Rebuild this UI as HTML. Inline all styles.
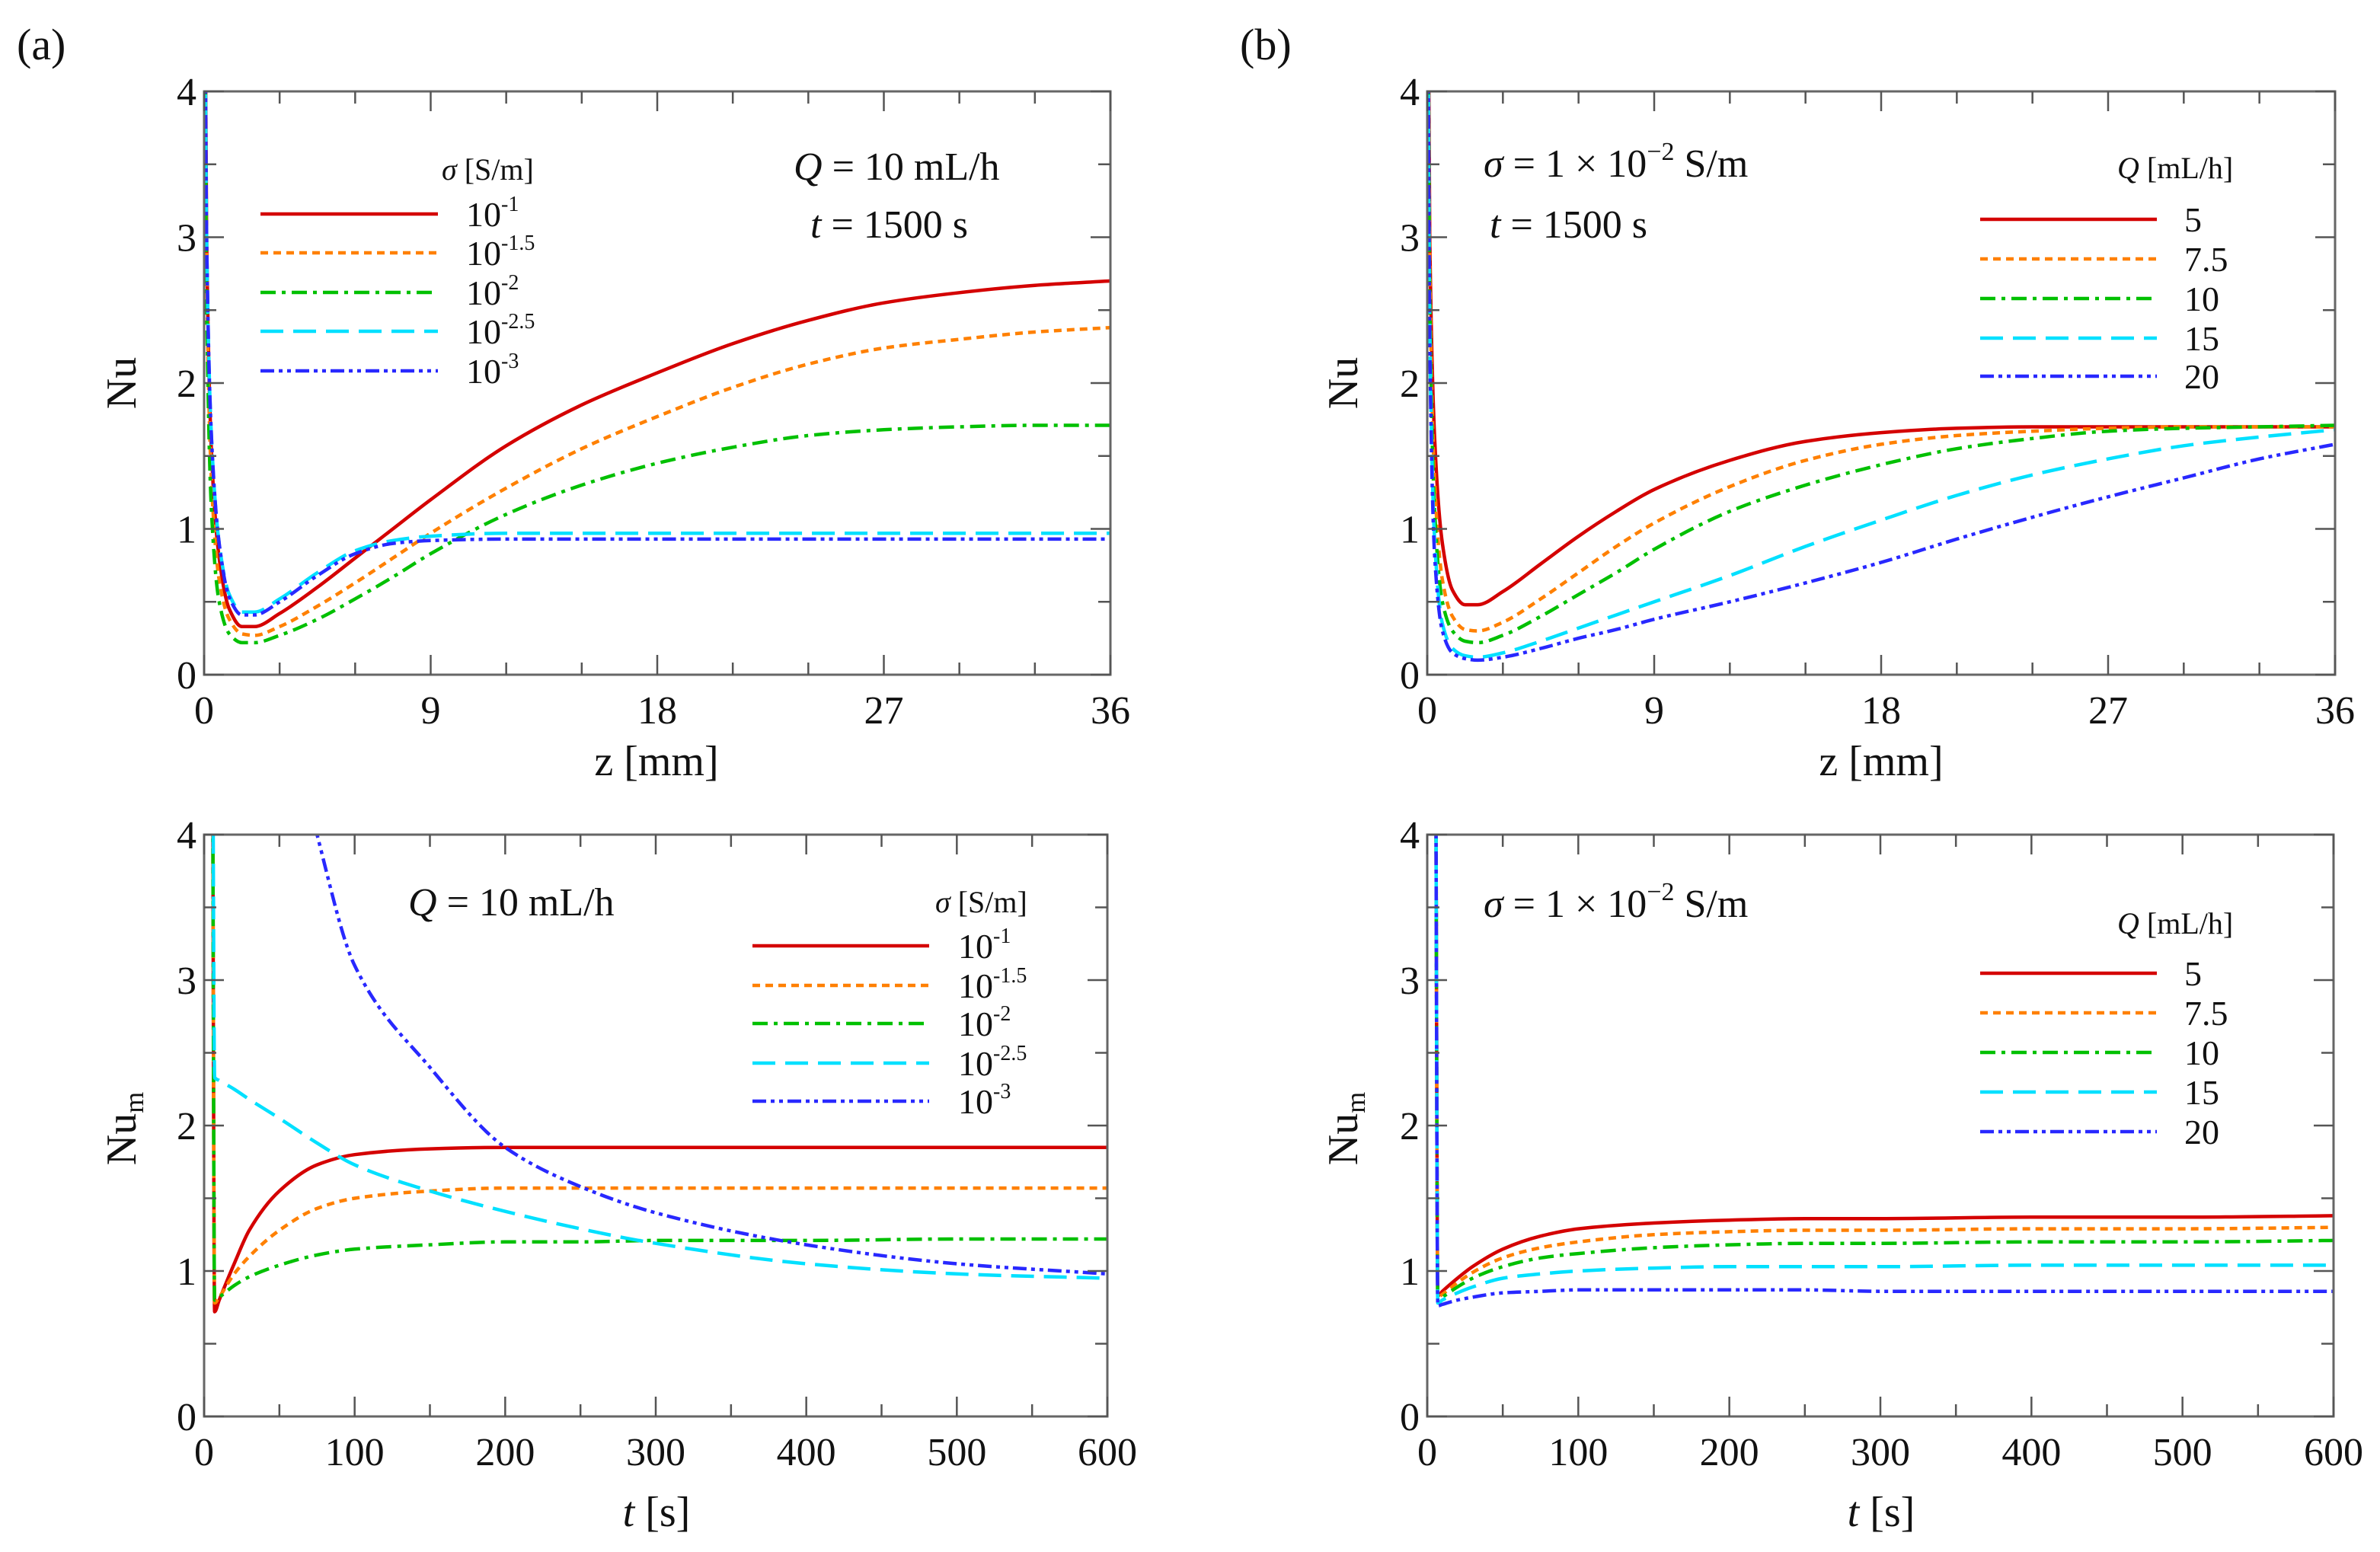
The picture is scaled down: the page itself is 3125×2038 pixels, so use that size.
<!DOCTYPE html>
<html><head><meta charset="utf-8"><style>
html,body{margin:0;padding:0;background:#fff;}
svg{display:block;}
text{font-family:"Liberation Serif","DejaVu Serif",serif;fill:#111;}
</style></head><body>
<svg id="fig" width="3125" height="2038" viewBox="0 0 3125 2038" xmlns="http://www.w3.org/2000/svg" font-family="Liberation Serif, serif">
<g id="static">
<text x="22" y="78" font-size="58">(a)</text>
<text x="1628" y="78" font-size="58">(b)</text>
</g>
</svg>
<script>
const colors=['#d40000','#ff8000','#00c000','#00e0ff','#2828ff'];
const dashes=['none','10 7','20 8 5 8','30 13','18 6 5 6 5 6'];
// ---- data: top-left panel (Nu vs z, varying sigma) ----
const zGrid=[0,0.1,0.3,0.6,1,1.5,2,3,4.5,6,7.5,9,12,15,18,21,24,27,30,33,36];
const aTopRed=[6,3.0,1.5,0.8,0.45,0.33,0.33,0.42,0.6,0.8,1.0,1.2,1.57,1.85,2.07,2.27,2.43,2.55,2.62,2.67,2.7];
const aTopOrange=[6,2.8,1.3,0.65,0.38,0.28,0.27,0.33,0.47,0.63,0.8,0.97,1.28,1.55,1.77,1.97,2.13,2.24,2.3,2.35,2.38];
const aTopGreen=[6,2.6,1.1,0.5,0.28,0.22,0.22,0.27,0.38,0.52,0.67,0.83,1.1,1.3,1.45,1.56,1.64,1.68,1.7,1.71,1.71];
const aTopCyan=[6,3.0,1.6,0.9,0.55,0.43,0.43,0.52,0.7,0.85,0.92,0.95,0.97,0.97,0.97,0.97,0.97,0.97,0.97,0.97,0.97];
const aTopBlue=[6,3.0,1.6,0.9,0.53,0.41,0.41,0.5,0.68,0.83,0.9,0.92,0.93,0.93,0.93,0.93,0.93,0.93,0.93,0.93,0.93];
// ---- top-right panel (Nu vs z, varying Q) ----
const bTop5=[6,3.0,1.6,0.9,0.58,0.48,0.48,0.57,0.76,0.95,1.12,1.27,1.47,1.6,1.66,1.69,1.7,1.7,1.7,1.7,1.7];
const bTop75=[6,2.8,1.3,0.65,0.4,0.31,0.3,0.36,0.52,0.7,0.88,1.04,1.29,1.47,1.58,1.64,1.67,1.69,1.7,1.7,1.7];
const bTop10=[6,2.6,1.1,0.5,0.3,0.23,0.22,0.27,0.4,0.55,0.7,0.86,1.12,1.3,1.44,1.55,1.62,1.67,1.69,1.7,1.71];
const bTop15=[6,2.4,0.9,0.35,0.18,0.13,0.12,0.15,0.23,0.32,0.41,0.5,0.68,0.88,1.06,1.23,1.37,1.48,1.57,1.63,1.68];
const bTop20=[6,2.3,0.8,0.3,0.15,0.11,0.1,0.12,0.18,0.25,0.31,0.38,0.5,0.63,0.77,0.93,1.08,1.22,1.35,1.48,1.58];
// ---- bottom panels (Nu_m vs t) ----
const tGrid=[0,5,7,10,20,30,50,75,100,150,200,250,300,400,500,600];
const aBotRed=[6,6,0.72,0.8,1.05,1.28,1.55,1.73,1.8,1.84,1.85,1.85,1.85,1.85,1.85,1.85];
const aBotOrange=[6,6,0.78,0.82,0.98,1.1,1.28,1.43,1.5,1.55,1.57,1.57,1.57,1.57,1.57,1.57];
const aBotGreen=[6,6,0.8,0.82,0.9,0.96,1.04,1.11,1.15,1.18,1.2,1.2,1.21,1.21,1.22,1.22];
const aBotCyan=[6,6,2.33,2.31,2.25,2.18,2.05,1.88,1.73,1.55,1.41,1.29,1.19,1.05,0.98,0.95];
const aBotBlue=[9,9,9,8.6,7.6,6.7,5.1,4.0,3.1,2.4,1.85,1.58,1.4,1.18,1.05,0.98];
const bBot5=[6,6,0.83,0.86,0.95,1.03,1.15,1.24,1.29,1.33,1.35,1.36,1.36,1.37,1.37,1.38];
const bBot75=[6,6,0.82,0.84,0.92,0.99,1.09,1.16,1.2,1.25,1.27,1.28,1.28,1.29,1.29,1.3];
const bBot10=[6,6,0.8,0.82,0.89,0.95,1.03,1.09,1.12,1.16,1.18,1.19,1.19,1.2,1.2,1.21];
const bBot15=[6,6,0.78,0.8,0.85,0.89,0.95,0.98,1.0,1.02,1.03,1.03,1.03,1.04,1.04,1.04];
const bBot20=[6,6,0.76,0.77,0.8,0.82,0.85,0.86,0.87,0.87,0.87,0.87,0.86,0.86,0.86,0.86];
const zTicks=[0,9,18,27,36];
const tTicks=[0,100,200,300,400,500,600];
const yTicks=[0,1,2,3,4];
const sigmaLabels=['-1','-1.5','-2','-2.5','-3'];
const qLabels=['5','7.5','10','15','20'];

const NS='http://www.w3.org/2000/svg';
const svg=document.getElementById('fig');
function mk(tag,attrs,parent){const e=document.createElementNS(NS,tag);for(const k in attrs)e.setAttribute(k,attrs[k]);(parent||svg).appendChild(e);return e;}

// monotone cubic (Fritsch-Carlson) path, no overshoot
function smoothPath(pts){
  const n=pts.length, dx=[], m=[], t=[];
  for(let i=0;i<n-1;i++){dx[i]=pts[i+1][0]-pts[i][0];m[i]=(pts[i+1][1]-pts[i][1])/dx[i];}
  t[0]=m[0];t[n-1]=m[n-2];
  for(let i=1;i<n-1;i++){
    if(m[i-1]*m[i]<=0)t[i]=0;
    else{const w1=2*dx[i]+dx[i-1],w2=dx[i]+2*dx[i-1];t[i]=(w1+w2)/(w1/m[i-1]+w2/m[i]);}
  }
  let d='M'+pts[0][0].toFixed(1)+','+pts[0][1].toFixed(1);
  for(let i=0;i<n-1;i++){
    const h=dx[i]/3;
    d+=' C'+(pts[i][0]+h).toFixed(1)+','+(pts[i][1]+t[i]*h).toFixed(1)+' '+(pts[i+1][0]-h).toFixed(1)+','+(pts[i+1][1]-t[i+1]*h).toFixed(1)+' '+pts[i+1][0].toFixed(1)+','+pts[i+1][1].toFixed(1);
  }
  return d;
}

function panel(cfg){
  const g=mk('g',{});
  
  
  const X=v=>cfg.x0+(v-cfg.xmin)/(cfg.xmax-cfg.xmin)*(cfg.x1-cfg.x0);
  const Y=v=>cfg.y1-(v/4)*(cfg.y1-cfg.y0);
  const cid='clip-'+cfg.name;
  const cp=mk('clipPath',{id:cid},g);
  mk('rect',{x:cfg.x0,y:cfg.y0,width:cfg.x1-cfg.x0,height:cfg.y1-cfg.y0},cp);
  cfg.series.forEach((s,i)=>{
    const pts=cfg.xs.map((x,j)=>[X(x),Y(s[j])]);
    const p=mk('path',{d:smoothPath(pts),fill:'none',stroke:colors[i],'stroke-width':4.5,'stroke-dasharray':dashes[i],'clip-path':'url(#'+cid+')'},g);
    
    
  });
  const fr=mk('rect',{x:cfg.x0,y:cfg.y0,width:cfg.x1-cfg.x0,height:cfg.y1-cfg.y0,fill:'none',stroke:'#666','stroke-width':3},g);
  
  
  for(let v=cfg.xmin;v<=cfg.xmax+1e-9;v+=cfg.xminor){
    const major=cfg.xticks.some(t=>Math.abs(t-v)<1e-9);
    const L=major?26:16;
    mk('line',{x1:X(v),x2:X(v),y1:cfg.y1,y2:cfg.y1-L,stroke:'#555','stroke-width':2.5},g);
    mk('line',{x1:X(v),x2:X(v),y1:cfg.y0,y2:cfg.y0+L,stroke:'#555','stroke-width':2.5},g);
  }
  for(let v=0;v<=4;v+=0.5){
    const L=(v%1===0)?26:16;
    mk('line',{x1:cfg.x0,x2:cfg.x0+L,y1:Y(v),y2:Y(v),stroke:'#555','stroke-width':2.5},g);
    mk('line',{x1:cfg.x1,x2:cfg.x1-L,y1:Y(v),y2:Y(v),stroke:'#555','stroke-width':2.5},g);
  }
  cfg.xticks.forEach(v=>{
    const t=mk('text',{x:X(v),y:cfg.y1+64,'font-size':52,'text-anchor':'middle'},g);
    t.textContent=v;
    
    
  });
  yTicks.forEach(v=>{
    const t=mk('text',{x:cfg.x0-10,y:Y(v)+18,'font-size':52,'text-anchor':'end'},g);
    t.textContent=v;
    
    
  });
  cfg.legY.forEach((ly,i)=>{
    const l=mk('line',{x1:cfg.legX0,x2:cfg.legX1,y1:ly,y2:ly,stroke:colors[i],'stroke-width':4.5,'stroke-dasharray':dashes[i]},g);
    
    
    const t=mk('text',{x:cfg.legTx,y:ly+16,'font-size':46},g);
    if(cfg.sigma){t.innerHTML='10<tspan dy="-20" font-size="28">'+sigmaLabels[i]+'</tspan>';}
    else t.textContent=qLabels[i];
    
    
  });
  return g;
}

const top0=120,top1=886,bot0=1096,bot1=1860;
panel({name:'panel-a-top',x0:268,x1:1458,y0:top0,y1:top1,xmin:0,xmax:36,xminor:3,xticks:zTicks,xs:zGrid,
  series:[aTopRed,aTopOrange,aTopGreen,aTopCyan,aTopBlue],legX0:342,legX1:575,legTx:612,legY:[281,332,384,435,487],sigma:true});
panel({name:'panel-b-top',x0:1874,x1:3066,y0:top0,y1:top1,xmin:0,xmax:36,xminor:3,xticks:zTicks,xs:zGrid,
  series:[bTop5,bTop75,bTop10,bTop15,bTop20],legX0:2600,legX1:2832,legTx:2868,legY:[288,340,392,444,494],sigma:false});
panel({name:'panel-a-bottom',x0:268,x1:1454,y0:bot0,y1:bot1,xmin:0,xmax:600,xminor:50,xticks:tTicks,xs:tGrid,
  series:[aBotRed,aBotOrange,aBotGreen,aBotCyan,aBotBlue],legX0:988,legX1:1220,legTx:1258,legY:[1242,1294,1344,1396,1446],sigma:true});
panel({name:'panel-b-bottom',x0:1874,x1:3064,y0:bot0,y1:bot1,xmin:0,xmax:600,xminor:50,xticks:tTicks,xs:tGrid,
  series:[bBot5,bBot75,bBot10,bBot15,bBot20],legX0:2600,legX1:2832,legTx:2868,legY:[1278,1330,1382,1434,1486],sigma:false});

function txt(x,y,size,html,name,extra){
  const t=mk('text',Object.assign({x:x,y:y,'font-size':size},extra||{}));
  t.innerHTML=html;
  
  
  return t;
}
txt(580,236,40,'<tspan font-style="italic">σ</tspan> [S/m]','legend-title-a-top');
txt(1042,236,52,'<tspan font-style="italic">Q</tspan> = 10 mL/h','annotation-q-a-top');
txt(1064,312,52,'<tspan font-style="italic">t</tspan> = 1500 s','annotation-t-a-top');
txt(1948,232,52,'<tspan font-style="italic">σ</tspan> = 1 × 10<tspan dy="-22" font-size="34">−2</tspan><tspan dy="22"> S/m</tspan>','annotation-sigma-b-top');
txt(1956,312,52,'<tspan font-style="italic">t</tspan> = 1500 s','annotation-t-b-top');
txt(2780,234,40,'<tspan font-style="italic">Q</tspan> [mL/h]','legend-title-b-top');
txt(536,1202,52,'<tspan font-style="italic">Q</tspan> = 10 mL/h','annotation-q-a-bottom');
txt(1228,1198,40,'<tspan font-style="italic">σ</tspan> [S/m]','legend-title-a-bottom');
txt(1948,1204,52,'<tspan font-style="italic">σ</tspan> = 1 × 10<tspan dy="-22" font-size="34">−2</tspan><tspan dy="22"> S/m</tspan>','annotation-sigma-b-bottom');
txt(2780,1226,40,'<tspan font-style="italic">Q</tspan> [mL/h]','legend-title-b-bottom');
txt(862,1018,56,'z [mm]','x-axis-title-a-top',{'text-anchor':'middle'});
txt(2470,1018,56,'z [mm]','x-axis-title-b-top',{'text-anchor':'middle'});
txt(862,2004,56,'<tspan font-style="italic">t</tspan> [s]','x-axis-title-a-bottom',{'text-anchor':'middle'});
txt(2470,2004,56,'<tspan font-style="italic">t</tspan> [s]','x-axis-title-b-bottom',{'text-anchor':'middle'});
txt(0,0,56,'Nu','y-axis-title-a-top',{transform:'translate(178,503) rotate(-90)','text-anchor':'middle'});
txt(0,0,56,'Nu','y-axis-title-b-top',{transform:'translate(1782,503) rotate(-90)','text-anchor':'middle'});
txt(0,0,56,'Nu<tspan dy="10" font-size="36">m</tspan>','y-axis-title-a-bottom',{transform:'translate(178,1482) rotate(-90)','text-anchor':'middle'});
txt(0,0,56,'Nu<tspan dy="10" font-size="36">m</tspan>','y-axis-title-b-bottom',{transform:'translate(1782,1482) rotate(-90)','text-anchor':'middle'});
</script>
</body></html>
